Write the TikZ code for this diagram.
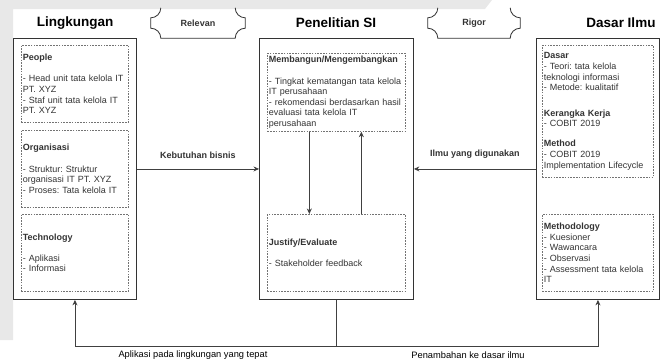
\documentclass[tikz,border=0pt]{standalone}
\usepackage{fontspec}
\setmainfont{Liberation Sans}
\usetikzlibrary{arrows.meta}
\frenchspacing

\begin{document}
\begin{tikzpicture}[x=1pt,y=1pt,
        outerbox/.style={draw=black!80,line width=0.9pt,anchor=north west,inner sep=0pt,minimum height=261pt},
        innerbox/.style 2 args={draw=black!55,dash pattern=on 1.6pt off 1.2pt,line width=0.7pt,
            anchor=north west,inner xsep=1.5pt,inner ysep=0pt,align=left,text=black!80,
            font=\fontsize{9}{10.6}\selectfont,text width=#1,minimum height=#2},
        header/.style={font=\fontsize{13.5}{16}\selectfont\bfseries},
        tag/.style={font=\fontsize{9}{11}\selectfont\bfseries,text=black!80,minimum height=30pt},
        tagline/.style={draw=black!80,line width=0.8pt},
        flow/.style={draw=black!75,line width=0.8pt,-{Stealth[length=5.5pt,width=5pt]}},
        flowlabel/.style={font=\fontsize{9}{11}\selectfont\bfseries,text=black!80},
        outlabel/.style={font=\fontsize{9.3}{11}\selectfont}]
    \useasboundingbox (0,0) rectangle (662,-360);
    % page background
    \fill[black!9] (0,0) -- (492,0) -- (485,-9) -- (13,-9) -- (13,-340) -- (0,-340) -- cycle;

    % headers and tags
    \node[header] (hling) at (75,-23) {Lingkungan};
    \node[header] (hpen) at (336,-23) {Penelitian SI};
    \node[header] (hdasar) at (621,-23) {Dasar Ilmu};
    \node[tag,minimum width=94pt] (relevan) at (198,-23) {Relevan};
    \node[tag,minimum width=92pt] (rigor) at (474,-23) {Rigor};
    \foreach \t in {relevan,rigor}
        \draw[tagline] ([xshift=10pt]\t.north west) arc[start angle=0,end angle=-90,radius=10pt]
            -- ([yshift=10pt]\t.south west) arc[start angle=90,end angle=0,radius=10pt]
            -- ([xshift=-10pt]\t.south east) arc[start angle=180,end angle=90,radius=10pt]
            -- ([yshift=-10pt]\t.north east) arc[start angle=270,end angle=180,radius=10pt];

    % outer boxes
    \node[outerbox,minimum width=123pt] (lingkungan) at (13,-38) {};
    \node[outerbox,minimum width=154pt] (penelitian) at (259,-38) {};
    \node[outerbox,minimum width=123pt] (dasarilmu) at (536,-38) {};

    % Lingkungan
    \node[innerbox={104pt}{77pt}] (people) at (21,-45)
        {\textbf{People}\\[10.6pt]- Head unit tata kelola IT\\PT. XYZ\\- Staf unit tata kelola IT\\PT. XYZ};
    \node[innerbox={104pt}{77pt}] (organisasi) at (21,-130)
        {\textbf{Organisasi}\\[10.6pt]- Struktur: Struktur\\organisasi IT PT. XYZ\\- Proses: Tata kelola IT};
    \node[innerbox={104pt}{77pt}] (technology) at (21,-214)
        {\textbf{Technology}\\[10.6pt]- Aplikasi\\- Informasi};

    % Penelitian SI
    \node[innerbox={135pt}{78pt}] (membangun) at (267,-53)
        {\textbf{Membangun/Mengembangkan}\\[10.6pt]- Tingkat kematangan tata kelola\\IT perusahaan\\- rekomendasi berdasarkan hasil\\evaluasi tata kelola IT\\perusahaan};
    \node[innerbox={135pt}{77pt}] (justify) at (267,-214)
        {\textbf{Justify/Evaluate}\\[10.6pt]- Stakeholder feedback};

    % Dasar Ilmu
    \node[innerbox={108pt}{132pt}] (dasar) at (542,-45)
        {\textbf{Dasar}\\- Teori: tata kelola\\teknologi informasi\\- Metode: kualitatif\\[15pt]\textbf{Kerangka Kerja}\\- COBIT 2019\\[9.5pt]\textbf{Method}\\- COBIT 2019\\Implementation Lifecycle};
    \node[innerbox={108pt}{77pt}] (methodology) at (542,-214)
        {\textbf{Methodology}\\- Kuesioner\\- Wawancara\\- Observasi\\- Assessment tata kelola\\IT};

    % connectors
    \draw[flow] ([xshift=-27pt]membangun.south) -- ([xshift=-27pt]justify.north);
    \draw[flow] ([xshift=25pt]justify.north) -- ([xshift=25pt]membangun.south);
    \draw[flow] (lingkungan.east) -- (penelitian.west)
        node[flowlabel,midway,above=7pt] {Kebutuhan bisnis};
    \draw[flow] (dasarilmu.west) -- (penelitian.east)
        node[flowlabel,midway,above=7pt] {Ilmu yang digunakan};
    \coordinate (fork) at ([yshift=-46pt]penelitian.south);
    \draw[flow] (penelitian.south) -- (fork) -| (lingkungan.south);
    \draw[flow] (fork) -| (dasarilmu.south);
    \node[outlabel] (aplikasi) at (193,-355) {Aplikasi pada lingkungan yang tepat};
    \node[outlabel] (penambahan) at (468,-355) {Penambahan ke dasar ilmu};
\end{tikzpicture}
\end{document}
